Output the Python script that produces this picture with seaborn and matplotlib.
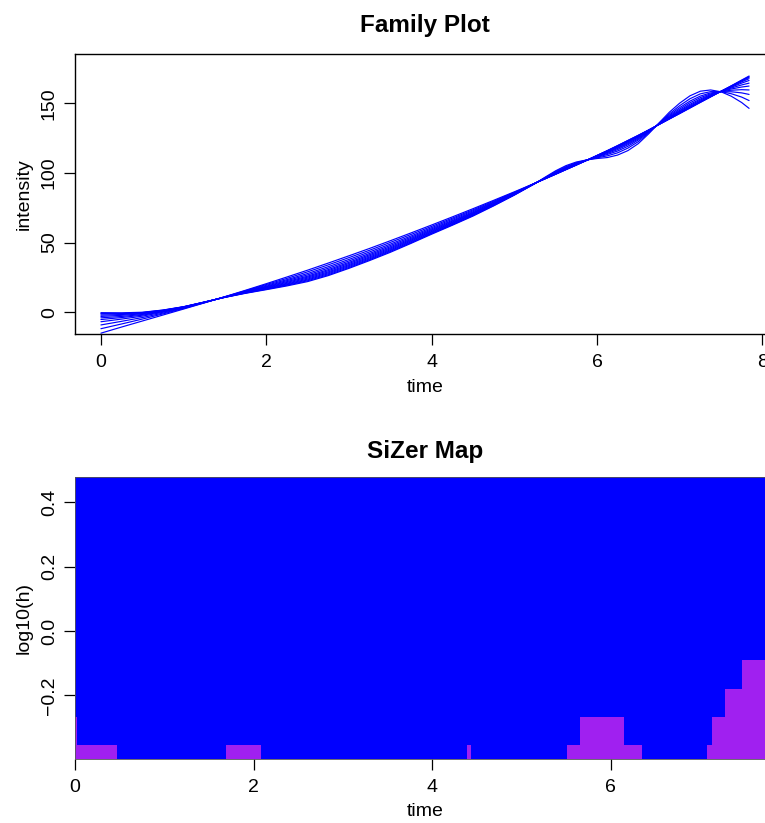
import numpy as np
import pandas as pd
import matplotlib
matplotlib.use("Agg")
import matplotlib.pyplot as plt
from matplotlib.colors import ListedColormap
import seaborn as sns

# ---------------------------------------------------------------------------
# Family of local-linear fits, one curve per bandwidth (small -> large h)
# ---------------------------------------------------------------------------
time_grid = [0.0, 0.25, 0.5, 0.75, 1.0, 1.25, 1.5, 1.75, 2.0, 2.25, 2.5, 2.75,
             3.0, 3.25, 3.5, 3.75, 4.0, 4.25, 4.5, 4.75, 5.0,
             5.25, 5.375, 5.5, 5.625, 5.75, 5.875, 6.0, 6.125, 6.25, 6.375,
             6.5, 6.625, 6.75, 6.875, 7.0, 7.125, 7.25, 7.375, 7.5, 7.625,
             7.75, 7.84]

log10_h = [-0.398, -0.310, -0.223, -0.135, -0.047, 0.040, 0.128, 0.216,
           0.303, 0.391, 0.479]

fit_h01 = [-0.3, -0.4, 0.0, 1.6, 4.0, 7.3, 10.7, 13.6, 16.2, 18.9, 22.0, 26.3,
           31.5, 37.1, 43.0, 49.4, 56.0, 62.4, 69.0, 76.3, 84.0,
           92.3, 97.0, 101.5, 105.2, 107.8, 109.3, 110.3, 111.0, 112.8, 116.0,
           121.0, 128.0, 135.8, 143.5, 150.0, 155.3, 158.6, 159.5, 158.2,
           155.0, 150.5, 146.3]
fit_h02 = [-0.8, -0.8, -0.2, 1.5, 3.9, 7.3, 10.7, 13.8, 16.5, 19.4, 22.6, 26.9,
           32.1, 37.7, 43.6, 49.9, 56.5, 62.8, 69.4, 76.6, 84.2,
           92.4, 96.7, 100.9, 104.5, 107.3, 109.2, 110.8, 112.2, 114.4, 117.8,
           122.4, 128.7, 135.5, 142.3, 148.2, 153.2, 156.7, 158.3, 158.3,
           156.8, 154.4, 151.9]
fit_h03 = [-1.3, -1.1, -0.4, 1.3, 3.9, 7.3, 10.8, 13.9, 16.8, 19.8, 23.2, 27.6,
           32.8, 38.3, 44.2, 50.5, 56.9, 63.2, 69.7, 76.9, 84.3,
           92.4, 96.5, 100.4, 104.0, 106.9, 109.2, 111.2, 113.2, 115.7, 119.1,
           123.6, 129.2, 135.3, 141.4, 146.8, 151.5, 155.1, 157.4, 158.3,
           158.2, 157.4, 156.3]
fit_h04 = [-2.1, -1.6, -0.8, 1.2, 3.8, 7.2, 10.8, 14.1, 17.2, 20.3, 23.8, 28.3,
           33.5, 39.0, 44.8, 51.1, 57.5, 63.7, 70.2, 77.2, 84.5,
           92.5, 96.3, 100.1, 103.6, 106.6, 109.1, 111.6, 113.9, 116.7, 120.2,
           124.4, 129.6, 135.2, 140.7, 145.7, 150.3, 154.0, 156.7, 158.4,
           159.3, 159.7, 159.5]
fit_h05 = [-3.0, -2.2, -1.1, 1.0, 3.7, 7.2, 10.9, 14.3, 17.5, 20.8, 24.5, 29.0,
           34.2, 39.7, 45.5, 51.7, 58.0, 64.2, 70.6, 77.5, 84.7,
           92.5, 96.2, 99.8, 103.2, 106.3, 109.1, 111.8, 114.5, 117.5, 121.0,
           125.1, 129.9, 135.0, 140.1, 144.8, 149.2, 153.0, 156.1, 158.4,
           160.2, 161.6, 162.3]
fit_h06 = [-4.0, -3.0, -1.6, 0.7, 3.6, 7.2, 10.9, 14.5, 17.9, 21.4, 25.2, 29.8,
           35.0, 40.5, 46.2, 52.3, 58.6, 64.7, 71.1, 77.9, 84.9,
           92.5, 96.1, 99.6, 102.9, 106.1, 109.1, 112.0, 114.9, 118.1, 121.7,
           125.7, 130.2, 134.9, 139.7, 144.2, 148.4, 152.3, 155.6, 158.4,
           160.9, 163.1, 164.4]
fit_h07 = [-5.2, -3.8, -2.1, 0.4, 3.4, 7.1, 10.9, 14.7, 18.3, 22.0, 25.9, 30.6,
           35.8, 41.3, 47.0, 53.0, 59.2, 65.3, 71.5, 78.2, 85.2,
           92.6, 96.0, 99.4, 102.7, 105.9, 109.0, 112.2, 115.3, 118.7, 122.3,
           126.2, 130.4, 134.9, 139.3, 143.6, 147.7, 151.6, 155.2, 158.5,
           161.5, 164.4, 166.3]
fit_h08 = [-6.8, -4.9, -2.8, 0.0, 3.3, 7.0, 11.0, 14.9, 18.7, 22.7, 26.8, 31.6,
           36.8, 42.2, 47.9, 53.8, 59.9, 65.9, 72.1, 78.7, 85.4,
           92.6, 95.9, 99.2, 102.5, 105.8, 109.0, 112.3, 115.6, 119.1, 122.7,
           126.5, 130.6, 134.8, 139.0, 143.1, 147.2, 151.2, 154.9, 158.5,
           161.9, 165.3, 167.6]
fit_h09 = [-9.1, -6.5, -3.8, -0.6, 3.0, 6.9, 11.1, 15.2, 19.3, 23.4, 27.8, 32.7,
           37.9, 43.3, 48.9, 54.7, 60.7, 66.7, 72.8, 79.1, 85.7,
           92.6, 95.9, 99.1, 102.4, 105.7, 109.0, 112.4, 115.8, 119.3, 123.0,
           126.7, 130.7, 134.7, 138.8, 142.8, 146.9, 150.9, 154.7, 158.5,
           162.2, 165.9, 168.5]
fit_h10 = [-11.8, -8.4, -4.9, -1.2, 2.7, 6.8, 11.1, 15.5, 19.9, 24.3, 29.0, 34.0,
           39.2, 44.5, 50.1, 55.8, 61.6, 67.5, 73.5, 79.7, 86.0,
           92.6, 95.8, 99.1, 102.4, 105.6, 109.0, 112.5, 115.9, 119.5, 123.2,
           126.9, 130.7, 134.7, 138.7, 142.7, 146.7, 150.7, 154.6, 158.5,
           162.4, 166.3, 169.0]
fit_h11 = [-15.0, -10.6, -6.3, -2.0, 2.3, 6.7, 11.2, 15.8, 20.5, 25.3, 30.2, 35.3,
           40.5, 45.8, 51.3, 56.9, 62.6, 68.4, 74.3, 80.3, 86.4,
           92.6, 95.8, 99.0, 102.3, 105.6, 109.0, 112.5, 116.0, 119.6, 123.3,
           127.0, 130.8, 134.7, 138.6, 142.5, 146.5, 150.5, 154.5, 158.5,
           162.5, 166.6, 169.5]

family_fits = [fit_h01, fit_h02, fit_h03, fit_h04, fit_h05, fit_h06,
               fit_h07, fit_h08, fit_h09, fit_h10, fit_h11]

# ---------------------------------------------------------------------------
# SiZer map: time spans where the derivative is NOT significantly positive
# (purple); everything else is significantly increasing (blue).
# Rows follow log10_h from the smallest bandwidth upwards.
# ---------------------------------------------------------------------------
time_range = (0.0, 7.84)
flat_spans = {
    0: [(0.0, 0.45), (1.68, 2.09), (4.39, 4.44), (5.50, 6.33), (7.07, 7.84)],
    1: [(0.0, 0.02), (5.64, 6.17), (7.15, 7.84)],
    2: [(7.29, 7.84)],
    3: [(7.48, 7.84)],
}

BLUE = "#0000FF"
PURPLE = "#A020F0"

# ---------------------------------------------------------------------------
sns.set_theme(style="ticks")
plt.rcParams["font.family"] = ["Liberation Sans", "DejaVu Sans"]
plt.rcParams.update({
    "axes.edgecolor": "black",
    "axes.linewidth": 1.0,
    "xtick.color": "black",
    "ytick.color": "black",
    "xtick.major.size": 8,
    "ytick.major.size": 8,
    "xtick.major.width": 0.9,
    "ytick.major.width": 0.9,
    "xtick.direction": "out",
    "ytick.direction": "out",
    "xtick.major.pad": 6.5,
    "ytick.major.pad": 4.3,
    "axes.labelcolor": "black",
    "text.color": "black",
})

W, H = 765, 823
fig = plt.figure(figsize=(W / 100, H / 100), dpi=100)
fig.patch.set_facecolor("white")

TICK_FS = 14
TITLE_FS = 17.5


def px_axes(left, top, right, bottom):
    return fig.add_axes([left / W, 1 - bottom / H, (right - left) / W,
                         (bottom - top) / H])


# ---------------- Family plot ----------------
ax1 = px_axes(75, 54, 775, 334)
rows = []
for lh, curve in zip(log10_h, family_fits):
    for t, v in zip(time_grid, curve):
        rows.append({"time": t, "intensity": v, "log10h": lh})
fam_df = pd.DataFrame(rows)

sns.lineplot(data=fam_df, x="time", y="intensity", units="log10h",
             estimator=None, color=BLUE, linewidth=0.85, sort=False,
             legend=False, ax=ax1)

span = time_range[1] - time_range[0]
ax1.set_xlim(time_range[0] - 0.04 * span, time_range[1] + 0.04 * span)
ax1.set_ylim(-15.6, 185.3)
ax1.set_xticks([0, 2, 4, 6, 8])
ax1.set_xticklabels(["0", "2", "4", "6", "8"], fontsize=TICK_FS)
ax1.set_yticks([0, 50, 100, 150])
ax1.set_yticklabels(["0", "50", "100", "150"], fontsize=TICK_FS,
                    rotation=90, va="center")
ax1.set_xlabel("time", fontsize=TICK_FS)
ax1.set_ylabel("intensity", fontsize=TICK_FS)
ax1.xaxis.set_label_coords(0.5, -0.16)
ax1.yaxis.set_label_coords(-0.06, 0.5)
ax1.set_title("Family Plot", fontsize=TITLE_FS, fontweight="bold", pad=16)
for s in ax1.spines.values():
    s.set_visible(True)
    s.set_color("black")

# ---------------- SiZer map ----------------
ax2 = px_axes(75, 477, 775, 759)
n_cols = 161
col_centers = np.linspace(time_range[0], time_range[1], n_cols)
status = np.ones((len(log10_h), n_cols))
for row, spans in flat_spans.items():
    for a, b in spans:
        status[row, (col_centers >= a - 1e-9) & (col_centers <= b + 1e-9)] = 0

dx = col_centers[1] - col_centers[0]
x_edges = np.concatenate([col_centers - dx / 2, [col_centers[-1] + dx / 2]])
lh = np.array(log10_h)
dy = lh[1] - lh[0]
y_edges = np.concatenate([lh - dy / 2, [lh[-1] + dy / 2]])

ax2.pcolormesh(x_edges, y_edges, status,
               cmap=ListedColormap([PURPLE, BLUE]), vmin=0, vmax=1,
               shading="flat", edgecolors="none", antialiased=False)
ax2.set_xlim(time_range)
ax2.set_ylim(lh[0], lh[-1])
ax2.set_xticks([0, 2, 4, 6])
ax2.set_xticklabels(["0", "2", "4", "6"], fontsize=TICK_FS)
ax2.set_yticks([-0.2, 0.0, 0.2, 0.4])
ax2.set_yticklabels(["\u22120.2", "0.0", "0.2", "0.4"], fontsize=TICK_FS,
                    rotation=90, va="center")
ax2.set_xlabel("time", fontsize=TICK_FS)
ax2.set_ylabel("log10(h)", fontsize=TICK_FS)
ax2.xaxis.set_label_coords(0.5, -0.156)
ax2.yaxis.set_label_coords(-0.06, 0.5)
ax2.set_title("SiZer Map", fontsize=TITLE_FS, fontweight="bold", pad=14)
for s in ax2.spines.values():
    s.set_visible(True)
    s.set_color("#555555")
    s.set_linewidth(0.6)

fig.savefig("out.png", dpi=100, facecolor="white")
